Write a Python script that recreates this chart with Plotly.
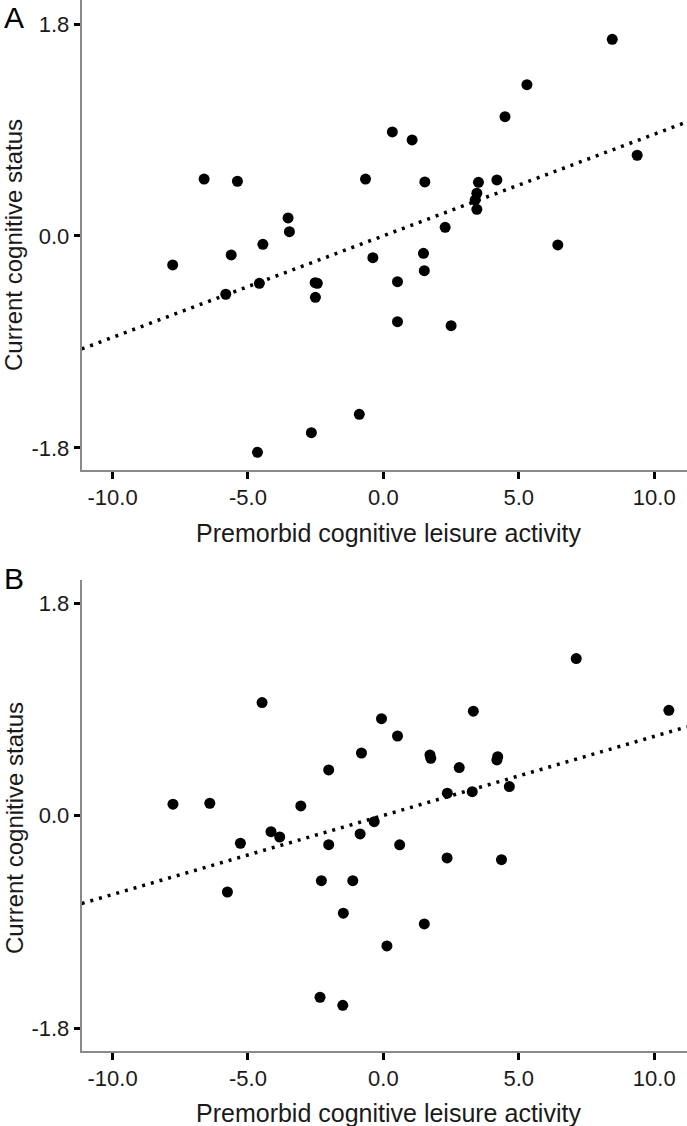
import numpy as np
import plotly.graph_objects as go

# ---------------- data ----------------
# Panel A
a_x = [-6.62, -5.39, -0.66, -3.52, -3.47, -4.45, -5.62, -7.78, -0.39, -4.58,
       -5.82, -2.52, -2.44, -2.51, 0.52, 0.52, -0.89, -2.66, -4.65,
       8.45, 5.30, 4.49, 0.33, 1.06, 9.37, 1.53, 3.51, 4.19, 3.45,
       3.39, 3.45, 2.28, 1.48, 1.51, 6.44, 2.50]
a_y = [0.484, 0.465, 0.484, 0.153, 0.037, -0.071, -0.161, -0.246, -0.184, -0.402,
       -0.495, -0.397, -0.402, -0.521, -0.388, -0.728, -1.515, -1.671, -1.838,
       1.671, 1.286, 1.014, 0.884, 0.816, 0.686, 0.459, 0.456, 0.476, 0.363,
       0.306, 0.227, 0.074, -0.147, -0.295, -0.076, -0.762]

# Panel B
b_x = [-4.48, -0.07, 0.52, -0.81, -2.02, -7.77, -6.41, -3.05, -4.15, -3.83,
       -5.28, -0.34, -0.86, -2.02, 0.60, -5.76, -2.29, -1.13, -1.48, 0.13,
       -2.34, -1.50,
       7.12, 10.54, 3.32, 1.72, 1.75, 4.22, 4.19, 2.80, 2.36, 3.28, 4.65,
       2.35, 4.36, 1.51]
b_y = [0.958, 0.822, 0.675, 0.531, 0.387, 0.097, 0.105, 0.082, -0.136, -0.181,
       -0.234, -0.051, -0.155, -0.246, -0.247, -0.647, -0.551, -0.551, -0.827, -1.104,
       -1.539, -1.607,
       1.331, 0.893, 0.885, 0.514, 0.486, 0.500, 0.472, 0.407, 0.190, 0.203, 0.246,
       -0.358, -0.373, -0.918]

x_tickvals = [-10, -5, 0, 5, 10]
x_ticktext = ["-10.0", "-5.0", "0.0", "5.0", "10.0"]
y_tickvals = [-1.8, 0.0, 1.8]
y_ticktext = ["-1.8", "0.0", "1.8"]

panel_labels = ["A", "B"]
x_title = "Premorbid cognitive leisure activity"
y_title = "Current cognitive status"

# ---------------- figure ----------------
W, H = 687, 1126
FONT = "Liberation Sans, Arial, Helvetica, sans-serif"

x_range = [-11.14, 11.21]
ya_range = [-1.984, 2.005]
yb_range = [-1.992, 1.997]

def px_x(p):
    return p / W

def px_y(p):
    return (H - p) / H

fig = go.Figure()

panels = [
    (a_x, a_y, "x", "y"),
    (b_x, b_y, "x2", "y2"),
]
for xs, ys, xa, yax in panels:
    xs_arr = np.array(xs)
    ys_arr = np.array(ys)
    slope, intercept = np.polyfit(xs_arr, ys_arr, 1)
    lx = np.array(x_range)
    fig.add_trace(go.Scatter(
        x=lx, y=intercept + slope * lx, mode="lines",
        line=dict(color="black", width=3.5, dash="3px,6px"),
        xaxis=xa, yaxis=yax, hoverinfo="skip", showlegend=False,
    ))
    fig.add_trace(go.Scatter(
        x=xs, y=ys, mode="markers",
        marker=dict(color="black", size=11, line=dict(width=0)),
        xaxis=xa, yaxis=yax, showlegend=False, cliponaxis=False,
    ))

axis_common = dict(
    showgrid=False, zeroline=False, showline=True,
    linecolor="#8a8a8a", linewidth=2,
    ticks="outside", tickcolor="black", tickwidth=2.5,
    tickfont=dict(family=FONT, size=22, color="#1a1a1a"),
)

xdom = [81.7 / W, 1.0]
fig.update_layout(
    width=W, height=H,
    margin=dict(l=0, r=0, t=0, b=0),
    paper_bgcolor="white", plot_bgcolor="white",
    xaxis=dict(domain=xdom, range=x_range, anchor="y",
               tickvals=x_tickvals, ticktext=x_ticktext, ticklen=7, **axis_common),
    yaxis=dict(domain=[px_y(469.5), 1.0], range=ya_range, anchor="x",
               tickvals=y_tickvals, ticktext=y_ticktext, ticklen=6, **axis_common),
    xaxis2=dict(domain=xdom, range=x_range, anchor="y2",
                tickvals=x_tickvals, ticktext=x_ticktext, ticklen=7, **axis_common),
    yaxis2=dict(domain=[px_y(1050.7), px_y(580)], range=yb_range, anchor="x2",
                tickvals=y_tickvals, ticktext=y_ticktext, ticklen=6, **axis_common),
)

annotations = []
# panel letters
for lab, yc in zip(panel_labels, [17.5, 578]):
    annotations.append(dict(
        text=lab, x=px_x(14), y=px_y(yc), xref="paper", yref="paper",
        xanchor="center", yanchor="middle", showarrow=False,
        font=dict(family=FONT, size=30, color="black"),
    ))
# axis titles
for yc in [533, 1113]:
    annotations.append(dict(
        text=x_title, x=px_x(388), y=px_y(yc), xref="paper", yref="paper",
        xanchor="center", yanchor="middle", showarrow=False,
        font=dict(family=FONT, size=25, color="#1a1a1a"),
    ))
for yc in [245, 828]:
    annotations.append(dict(
        text=y_title, x=px_x(14), y=px_y(yc), xref="paper", yref="paper",
        xanchor="center", yanchor="middle", showarrow=False, textangle=-90,
        font=dict(family=FONT, size=24, color="#1a1a1a"),
    ))
fig.update_layout(annotations=annotations)

fig.write_html(
    "out.html",
    config={"displayModeBar": False},
    post_script="document.body.style.margin='0';document.body.style.overflow='hidden';",
)
